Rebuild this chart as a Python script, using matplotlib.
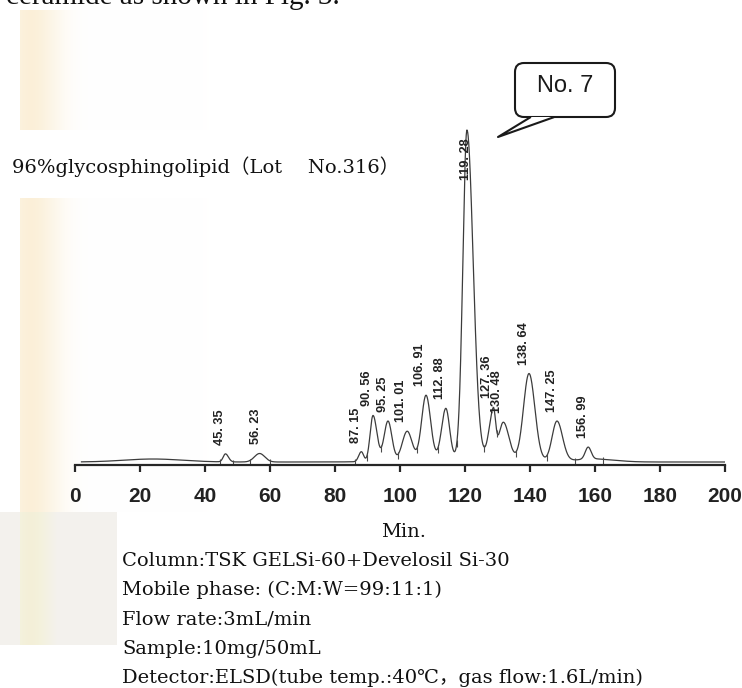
import numpy as np
import matplotlib.pyplot as plt
from matplotlib.patches import FancyBboxPatch, Polygon
from matplotlib.lines import Line2D
from matplotlib.transforms import IdentityTransform, offset_copy

# ---------------------------------------------------------------
# chromatogram data
# peak labels are the retention times printed by the integrator
label_times = [45.35, 56.23, 87.15, 90.56, 95.25, 101.01, 106.91,
               112.88, 119.28, 127.36, 130.48, 138.64, 147.25, 156.99]
peak_labels = ["45. 35", "56. 23", "87. 15", "90. 56", "95. 25", "101. 01", "106. 91",
               "112. 88", "119. 28", "127. 36", "130. 48", "138. 64", "147. 25", "156. 99"]

# where the apex sits on the drawn time axis, its height and widths (min)
apex_times = [46.3, 56.8, 88.1, 91.7, 96.3, 102.2, 108.0,
              114.1, 120.6, 128.7, 131.8, 139.7, 148.3, 157.9]
apex_heights = [8, 8.5, 10, 46, 40, 29, 64,
                50, 328, 48, 37, 87, 40, 12]
sigma_left = [0.7, 1.6, 0.8, 0.9, 1.2, 1.5, 1.35,
              1.3, 1.25, 1.3, 1.4, 1.7, 1.5, 0.9]
sigma_right = [0.9, 1.6, 0.7, 1.2, 1.2, 1.5, 1.4,
               1.15, 1.9, 0.7, 1.7, 1.8, 1.7, 0.9]

# unlabelled broad baseline humps
hump_times = [24, 120, 160]
hump_heights = [3, 4, 3]
hump_widths = [9, 14, 6]

# integration start/stop marks on the trace
marker_times = [44.6, 48.6, 53.8, 60.0, 86.2, 89.8, 94.2, 99.4, 105.2,
                111.7, 117.5, 125.8, 129.8, 135.7, 145.2, 153.8, 162.5]

x_ticks = [0, 20, 40, 60, 80, 100, 120, 140, 160, 180, 200]

title = "96%glycosphingolipid\uff08Lot\u3000 No.316\uff09"
conditions = [
    "Column:TSK GELSi-60+Develosil Si-30",
    "Mobile phase: (C:M:W=99:11:1)",
    "Flow rate:3mL/min",
    "Sample:10mg/50mL",
    "Detector:ELSD(tube temp.:40\u2103\uff0cgas flow:1.6L/min)",
]


def signal(t):
    t = np.asarray(t, dtype=float)
    y = np.zeros_like(t)
    for c, h, sl, sr in zip(apex_times, apex_heights, sigma_left, sigma_right):
        s = np.where(t < c, sl, sr)
        y += h * np.exp(-0.5 * ((t - c) / s) ** 2)
    for c, h, w in zip(hump_times, hump_heights, hump_widths):
        y += h * np.exp(-0.5 * ((t - c) / w) ** 2)
    return y


# ---------------------------------------------------------------
W, H = 742, 688
SERIF = ["DejaVu Serif", "Noto Sans CJK JP"]
NARROW = ["Liberation Sans Narrow", "Liberation Sans"]

fig = plt.figure(figsize=(W / 100, H / 100), dpi=100)
fig.patch.set_facecolor("white")

# scanned-paper background (beige strip on the left, grey corner)
bg = np.ones((H, W, 3))
cols = np.arange(W)
strength = np.exp(-((cols - 30) / 30.0) ** 2)
strength[cols < 20] = 0
beige = np.array([0.985, 0.94, 0.85])
band = 1 - strength[:, None] * (1 - beige)
bg[10:645, :, :] = band[None, :, :]
bg[512:645, :117, :] = np.minimum(bg[512:645, :117, :], [0.955, 0.948, 0.93])
bg[130:198, :480, :] = 1.0
bg[512:, 117:, :] = 1.0
fig.figimage(bg, xo=0, yo=0, origin="upper", zorder=-5)

ax = fig.add_axes([75 / W, 1 - 465 / H, 650 / W, 365 / H])
ax.set_zorder(1)
ax.patch.set_alpha(0)

t = np.linspace(2, 200, 3000)
ax.plot(t, signal(t), color="#3c3c3c", lw=0.9)

# integration markers
mv = signal(marker_times)
ax.vlines(marker_times, mv - 5, mv + 2, color="#4a4a4a", lw=0.8)

# peak labels
lab_tr = offset_copy(ax.transData, fig=fig, x=-2, y=9, units="dots")
for lt, lab, at, ah in zip(label_times, peak_labels, apex_times, apex_heights):
    top = signal([at])[0]
    if ah > 200:
        ax.text(lt + 0.9, top - 50, lab, rotation=90, ha="center", va="bottom",
                fontsize=9.2, fontweight="bold", family=NARROW, color="#222222",
                zorder=5)
    else:
        ax.text(lt, top, lab, rotation=90, ha="center", va="bottom",
                fontsize=9.2, fontweight="bold", family=NARROW, color="#222222",
                transform=lab_tr)

ax.set_xlim(0, 200)
ax.set_ylim(-3, 362)
for s in ["top", "left", "right"]:
    ax.spines[s].set_visible(False)
ax.spines["bottom"].set_linewidth(1.6)
ax.spines["bottom"].set_color("#262626")
ax.set_yticks([])
ax.set_xticks(x_ticks)
ax.tick_params(axis="x", direction="out", length=5, width=1.6, color="#262626",
               pad=10.5, labelsize=15, labelcolor="#222222")
for lbl in ax.get_xticklabels():
    lbl.set_family(["Liberation Sans"])
    lbl.set_fontweight("bold")
ax.set_xlabel("Min.", fontsize=14, family=SERIF, color="#111111")
ax.xaxis.label.set_va("baseline")
ax.xaxis.set_label_coords((404 - 75) / 650, -(537 - 465) / 365)

# title and running conditions
fig.text(12 / W, 1 - 173 / H, title, fontsize=14, family=SERIF,
         va="baseline", ha="left", color="#111111")
for i, line in enumerate(conditions):
    fig.text(122 / W, 1 - (566 + 29.25 * i) / H, line, fontsize=14, family=SERIF,
             va="baseline", ha="left", color="#111111")

# cut-off line of the page above
fig.text(340 / W, 1 - 4 / H, "ceramide as shown in Fig. 3.", fontsize=21,
         family=["Liberation Serif"], va="baseline", ha="right", color="#111111")

# "No. 7" speech bubble (pixel coordinates)
idt = IdentityTransform()
bubble = FancyBboxPatch((515, H - 117), 100, 54, boxstyle="round,pad=0,rounding_size=9",
                        transform=idt, facecolor="white", edgecolor="#1a1a1a",
                        lw=1.5, zorder=10)
fig.patches.append(bubble)
tail = Polygon([(530, H - 117), (498, H - 137), (553, H - 117)], closed=True,
               transform=idt, facecolor="white", edgecolor="none", zorder=11)
fig.patches.append(tail)
fig.lines.append(Line2D([530, 498, 553], [H - 117.5, H - 137, H - 117.5],
                        transform=idt, color="#1a1a1a", lw=1.5, zorder=12))
fig.text(565 / W, 1 - 86 / H, "No. 7", fontsize=17, family=NARROW,
         ha="center", va="center", color="#1a1a1a", zorder=13)

fig.savefig("out.png", dpi=100)
